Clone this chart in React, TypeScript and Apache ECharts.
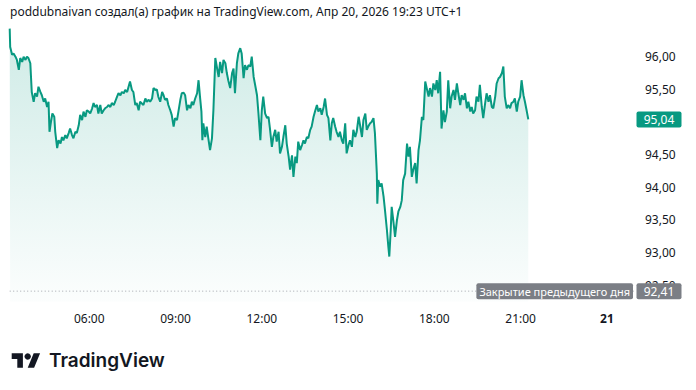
import React, { useEffect, useRef } from "react";
import * as echarts from "echarts";

const TITLE = "poddubnaivan создал(а) график на TradingView.com, Апр 20, 2026 19:23 UTC+1";
const BRAND = "TradingView";
const timeTicks = [360, 540, 720, 900, 1080, 1260, 1440];
const timeTickLabels = ["06:00", "09:00", "12:00", "15:00", "18:00", "21:00", "21"];
const prevClose = 92.41;
const prevCloseLabel = "Закрытие предыдущего дня";
const lastPrice = 95.04;

// minutes since midnight
const times = [
  194, 195, 199, 202, 206, 209, 213, 216, 220, 223, 227, 230, 233, 237, 240, 244, 247, 251, 254, 258,
  261, 265, 268, 272, 275, 277, 280, 283, 287, 289, 293, 296, 300, 303, 306, 310, 313, 317, 320, 324,
  327, 331, 334, 338, 341, 345, 348, 352, 355, 359, 362, 366, 369, 372, 376, 379, 383, 386, 390, 393,
  397, 400, 404, 407, 411, 414, 418, 421, 425, 428, 432, 435, 439, 442, 445, 449, 452, 456,
  459, 463, 466, 473, 477, 480, 484, 487, 491, 494, 498, 501, 504, 508, 512, 515, 518, 522, 525, 529,
  532, 536, 539, 543, 546, 550, 553, 557, 560, 564, 567, 571, 574, 577, 581, 585, 588, 591, 594, 596,
  598, 602, 605, 609, 612, 616, 619, 623, 626, 630, 633, 637, 640, 644, 647, 650, 654, 658, 661, 664,
  668, 671, 675,
  678, 682, 685, 689, 692, 696, 699, 703, 706, 710, 713, 717, 720, 723, 727, 731, 734, 737, 741, 744,
  748, 751, 755, 758, 762, 765, 769, 772, 776, 779, 783, 786, 790, 793, 796, 800, 804, 807, 810, 814,
  817, 821, 824, 828, 831, 835, 838, 842, 845, 849, 852, 856, 859, 863, 866, 869, 873, 876, 880, 883,
  887, 890, 894, 897, 901, 904, 908, 911, 915, 918, 922, 925, 929, 932, 936, 939, 942, 946, 949, 953,
  956, 960, 961, 963, 967, 970, 974, 977, 981, 984, 986, 989, 991, 995, 998, 1002, 1005, 1009, 1012, 1015,
  1019, 1023, 1026, 1029, 1033, 1036, 1040, 1043, 1047, 1050, 1054, 1057, 1061, 1064, 1068, 1071, 1075, 1078, 1082, 1085,
  1088, 1092, 1095, 1099, 1102, 1106, 1109, 1113, 1116, 1120, 1123, 1127, 1130, 1134, 1137, 1141, 1144, 1148, 1151, 1155,
  1158, 1161, 1165, 1168, 1172, 1175, 1179, 1182, 1186, 1189, 1193, 1196, 1200, 1203, 1207, 1210, 1214, 1217, 1221, 1224,
  1227, 1231, 1234, 1238, 1241, 1245, 1248, 1252, 1255, 1259, 1262, 1266, 1269, 1273, 1276,
];

const prices = [
  96.43, 96.15, 96.03, 96.05, 96.0, 95.95, 95.8, 95.98, 95.92, 96.0, 95.95, 96.0, 95.98, 95.9, 95.46, 95.31, 95.44, 95.39, 95.54, 95.46,
  95.41, 95.31, 95.36, 95.23, 95.31, 94.85, 95.0, 95.13, 95.08, 94.85, 94.6, 94.72, 94.67, 94.77, 94.72, 94.8, 94.75, 94.83, 94.9, 94.8,
  94.75, 94.85, 94.83, 94.95, 95.11, 95.03, 95.16, 95.08, 95.18, 95.16, 95.13, 95.21, 95.29, 95.23, 95.26, 95.13, 95.26, 95.13, 95.18, 95.21,
  95.23, 95.26, 95.23, 95.29, 95.26, 95.31, 95.39, 95.44, 95.41, 95.46, 95.44, 95.49, 95.46, 95.54, 95.62, 95.49, 95.46, 95.26,
  95.29, 95.18, 95.31, 95.26, 95.36, 95.31, 95.34, 95.31, 95.36, 95.52, 95.49, 95.5, 95.39, 95.31, 95.46, 95.41, 95.34, 95.36, 95.26, 95.18,
  95.11, 94.93, 95.06, 95.03, 95.16, 95.34, 95.44, 95.45, 95.41, 95.18, 95.26, 95.21, 95.31, 95.26, 95.36, 95.44, 95.64, 95.39, 95.16, 94.72,
  94.98, 94.77, 94.93, 94.72, 94.57, 94.75, 95.18, 95.98, 95.85, 95.69, 95.92, 95.75, 95.95, 95.9, 95.75, 95.64, 95.52, 95.75, 95.82, 95.44,
  95.9, 96.05, 96.13,
  96.05, 95.67, 95.87, 95.8, 95.87, 95.85, 96.0, 95.69, 95.57, 95.41, 95.13, 94.72, 95.18, 95.39, 95.13, 95.06, 95.08, 94.9, 94.62, 94.77,
  94.88, 94.7, 94.85, 94.52, 94.62, 94.77, 94.95, 94.67, 94.47, 94.27, 94.49, 94.16, 94.47, 94.37, 94.7, 94.57, 94.65, 94.72, 94.67, 94.77,
  94.75, 94.88, 94.93, 95.08, 95.16, 95.26, 95.16, 95.21, 95.11, 95.23, 95.36, 95.11, 95.06, 94.72, 94.98, 95.06, 94.93, 94.85, 94.77, 94.85,
  94.72, 94.67, 94.98, 94.52, 94.65, 94.72, 94.62, 94.88, 94.77, 94.85, 95.08, 94.95, 94.77, 95.03, 95.13, 94.88, 94.93, 94.98, 95.0, 95.06,
  94.83, 94.21, 93.75, 94.11, 94.01, 94.06, 93.86, 93.65, 93.35, 93.09, 92.94, 93.35, 93.7, 93.45, 93.24, 93.5, 93.63, 93.7, 93.8, 94.11,
  94.21, 94.67, 94.47, 94.62, 94.16, 94.27, 94.37, 94.06, 94.57, 94.72, 95.08, 95.03, 95.62, 95.52, 95.39, 95.52, 95.39, 95.59, 95.49, 95.64,
  95.44, 95.77, 94.9, 95.18, 95.0, 95.16, 95.64, 95.21, 95.39, 95.49, 95.34, 95.59, 95.44, 95.26, 95.41, 95.34, 95.44, 95.21, 95.31, 95.16,
  95.23, 95.13, 95.18, 95.39, 95.31, 95.57, 95.23, 95.06, 95.29, 95.44, 95.31, 95.41, 95.23, 95.21, 95.39, 95.59, 95.67, 95.69, 95.75, 95.85,
  95.39, 95.21, 95.26, 95.21, 95.29, 95.31, 95.36, 95.16, 95.31, 95.39, 95.64, 95.41, 95.31, 95.16, 95.04,
];

// layout constants
const W = 696;
const H = 390;
const GRID_LEFT = 2.7;
const GRID_RIGHT_PX = 634;
const MIN_PER_PX = 2.0855;
const X_MIN = 180;
const X_MAX = X_MIN + (GRID_RIGHT_PX - GRID_LEFT) * MIN_PER_PX;
const GRID_TOP = 24.05;
const GRID_BOTTOM_PX = 301.6;
const GREEN = "#089981";
const GREY_BOX = "#7b7e85";
const TEXT = "#131722";
const FONT = '"Noto Sans", "Open Sans", sans-serif';

echarts.graphic.registerShape(
  "tvlogo",
  echarts.graphic.extendPath("M14 22H7V11H0V4h14v18zM28 22h-8l7.5-18h8L28 22z", {})
);

const fmtPrice = (v: number) => v.toFixed(2).replace(".", ",");

export default function App() {
  const ref = useRef<HTMLDivElement>(null);
  useEffect(() => {
    if (!ref.current) return;
    const chart = echarts.init(ref.current, null, { renderer: "svg", width: W, height: H });
    const data = times.map((t, i) => [t, prices[i]]);
    chart.setOption({
      animation: false,
      backgroundColor: "#ffffff",
      grid: {
        left: GRID_LEFT,
        top: GRID_TOP,
        width: GRID_RIGHT_PX - GRID_LEFT,
        height: GRID_BOTTOM_PX - GRID_TOP,
        containLabel: false,
      },
      xAxis: {
        type: "value",
        min: X_MIN,
        max: X_MAX,
        interval: 180,
        axisLine: { show: false },
        axisTick: { show: false },
        splitLine: { show: false },
        axisLabel: {
          margin: 11,
          fontSize: 12,
          fontFamily: FONT,
          color: TEXT,
          formatter: (v: number) => {
            const idx = timeTicks.findIndex((t) => Math.abs(t - v) < 1e-6);
            if (idx < 0) return "";
            if (idx === timeTicks.length - 1) return "{b|" + timeTickLabels[idx] + "}";
            return timeTickLabels[idx];
          },
          rich: { b: { fontWeight: "bold", fontSize: 12, fontFamily: FONT, color: TEXT } },
        },
      },
      yAxis: {
        type: "value",
        position: "right",
        min: 92.25,
        max: 96.5,
        interval: 0.25,
        axisLine: { show: false },
        axisTick: { show: false },
        splitLine: { show: false },
        axisLabel: {
          margin: 11,
          fontSize: 12,
          fontFamily: FONT,
          color: TEXT,
          align: "left",
          formatter: (v: number) => {
            const half = v * 2;
            if (Math.abs(half - Math.round(half)) > 1e-6) return "";
            if (v > 96.4 || v < 92.3) return "";
            // hidden behind the last-price label, as in the reference
            if (Math.abs(v - lastPrice) < 0.2) return "";
            return fmtPrice(v);
          },
        },
      },
      series: [
        {
          type: "line",
          data,
          showSymbol: false,
          symbol: "none",
          lineStyle: { color: GREEN, width: 2 },
          areaStyle: {
            origin: "start",
            color: new echarts.graphic.LinearGradient(0, 0, 0, 1, [
              { offset: 0, color: "rgba(8,153,129,0.28)" },
              { offset: 1, color: "rgba(8,153,129,0.02)" },
            ]),
          },
          z: 3,
        },
      ],
    });

    const toPx = (t: number, p: number) =>
      chart.convertToPixel({ gridIndex: 0 }, [t, p]) as number[];
    const [x0, yPC] = toPx(times[0], prevClose);
    const [, yLast] = toPx(times[0], lastPrice);
    const boxX = GRID_RIGHT_PX + 2.5;
    const boxW = 45;
    const boxH = 16;

    chart.setOption({
      graphic: [
        {
          type: "text",
          left: 10,
          top: 5,
          style: { text: TITLE, font: "12px " + FONT, fill: TEXT },
        },
        {
          type: "line",
          shape: { x1: x0, y1: yPC, x2: GRID_RIGHT_PX, y2: yPC },
          style: { stroke: "#a3a6ad", lineWidth: 1, lineDash: [1, 2.5] },
          z: 10,
        },
        {
          type: "text",
          z: 20,
          style: {
            x: GRID_RIGHT_PX - 1,
            y: yPC,
            text: prevCloseLabel,
            font: "11px " + FONT,
            fill: "#ffffff",
            align: "right",
            verticalAlign: "middle",
            textAlign: "right",
            textVerticalAlign: "middle",
            backgroundColor: GREY_BOX,
            padding: [3, 3, 2, 3],
            borderRadius: 2,
          },
        },
        {
          type: "rect",
          z: 20,
          shape: { x: boxX, y: yPC - boxH / 2, width: boxW, height: boxH, r: 2 },
          style: { fill: GREY_BOX },
        },
        {
          type: "text",
          z: 21,
          style: {
            x: boxX + boxW / 2,
            y: yPC,
            text: fmtPrice(prevClose),
            font: "12px " + FONT,
            fill: "#ffffff",
            align: "center",
            verticalAlign: "middle",
            textAlign: "center",
            textVerticalAlign: "middle",
          },
        },
        {
          type: "rect",
          z: 20,
          shape: { x: boxX, y: yLast - boxH / 2, width: boxW, height: boxH, r: 2 },
          style: { fill: GREEN },
        },
        {
          type: "text",
          z: 21,
          style: {
            x: boxX + boxW / 2,
            y: yLast,
            text: fmtPrice(lastPrice),
            font: "12px " + FONT,
            fill: "#ffffff",
            align: "center",
            verticalAlign: "middle",
            textAlign: "center",
            textVerticalAlign: "middle",
          },
        },
        {
          type: "tvlogo",
          x: 11.7,
          y: 350.1,
          scaleX: 0.8,
          scaleY: 0.8,
          style: { fill: TEXT },
        },
        {
          type: "circle",
          shape: { cx: 11.7 + 20 * 0.8, cy: 350.1 + 8 * 0.8, r: 3.2 },
          style: { fill: TEXT },
        },
        {
          type: "text",
          style: {
            x: 49,
            y: 360.5,
            text: BRAND,
            font: "600 19px Inter, sans-serif",
            fill: TEXT,
            verticalAlign: "middle",
            textVerticalAlign: "middle",
          },
        },
      ],
    });

    return () => chart.dispose();
  }, []);

  return (
    <div
      ref={ref}
      style={{ position: "fixed", left: 0, top: 0, width: W, height: H, background: "#fff" }}
    />
  );
}
